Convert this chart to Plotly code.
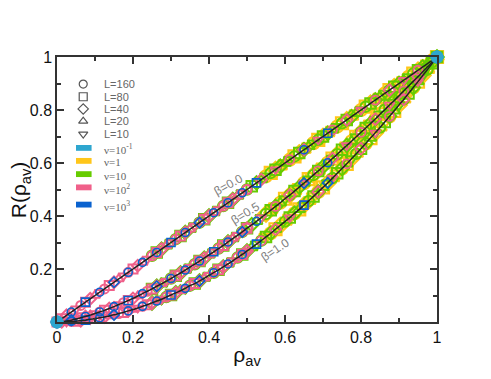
import plotly.graph_objects as go

# grid of rho_av values and R(rho_av)
rho = [0.0, 0.0125, 0.025, 0.0375, 0.05, 0.0625, 0.075, 0.0875, 0.1, 0.1125,
       0.125, 0.1375, 0.15, 0.1625, 0.175, 0.1875, 0.2, 0.2125, 0.225, 0.2375,
       0.25, 0.2625, 0.275, 0.2875, 0.3, 0.3125, 0.325, 0.3375, 0.35, 0.3625,
       0.375, 0.3875, 0.4, 0.4125, 0.425, 0.4375, 0.45, 0.4625, 0.475, 0.4875,
       0.5, 0.5125, 0.525, 0.5375, 0.55, 0.5625, 0.575, 0.5875, 0.6, 0.6125,
       0.625, 0.6375, 0.65, 0.6625, 0.675, 0.6875, 0.7, 0.7125, 0.725, 0.7375,
       0.75, 0.7625, 0.775, 0.7875, 0.8, 0.8125, 0.825, 0.8375, 0.85, 0.8625,
       0.875, 0.8875, 0.9, 0.9125, 0.925, 0.9375, 0.95, 0.9625, 0.975, 0.9875, 1.0]

R_beta00 = [0.0, 0.0125, 0.025, 0.0375, 0.05, 0.0625, 0.075, 0.0875, 0.1, 0.1125,
            0.125, 0.1375, 0.15, 0.1625, 0.175, 0.1875, 0.2, 0.2125, 0.225, 0.2375,
            0.25, 0.2625, 0.275, 0.2875, 0.3, 0.3125, 0.325, 0.3375, 0.35, 0.3625,
            0.375, 0.3875, 0.4, 0.4125, 0.425, 0.4375, 0.45, 0.4625, 0.475, 0.4875,
            0.5, 0.5125, 0.525, 0.5375, 0.55, 0.5625, 0.575, 0.5875, 0.6, 0.6125,
            0.625, 0.6375, 0.65, 0.6625, 0.675, 0.6875, 0.7, 0.7125, 0.725, 0.7375,
            0.75, 0.7625, 0.775, 0.7875, 0.8, 0.8125, 0.825, 0.8375, 0.85, 0.8625,
            0.875, 0.8875, 0.9, 0.9125, 0.925, 0.9375, 0.95, 0.9625, 0.975, 0.9875, 1.0]

R_beta05 = [0.0, 0.001, 0.004, 0.007, 0.011, 0.016, 0.021, 0.026, 0.032, 0.038,
            0.044, 0.051, 0.058, 0.066, 0.073, 0.081, 0.089, 0.098, 0.107, 0.116,
            0.125, 0.135, 0.144, 0.154, 0.164, 0.175, 0.185, 0.196, 0.207, 0.218,
            0.23, 0.241, 0.253, 0.265, 0.277, 0.289, 0.302, 0.315, 0.327, 0.34,
            0.354, 0.367, 0.38, 0.394, 0.408, 0.422, 0.436, 0.45, 0.465, 0.479,
            0.494, 0.509, 0.524, 0.539, 0.555, 0.57, 0.586, 0.601, 0.617, 0.633,
            0.65, 0.666, 0.682, 0.699, 0.716, 0.732, 0.749, 0.766, 0.784, 0.801,
            0.819, 0.836, 0.854, 0.872, 0.89, 0.908, 0.926, 0.944, 0.963, 0.981, 1.0]

R_beta10 = [0.0, 0.0, 0.001, 0.002, 0.003, 0.005, 0.007, 0.01, 0.013, 0.016,
            0.019, 0.023, 0.027, 0.032, 0.036, 0.042, 0.047, 0.053, 0.059, 0.065,
            0.072, 0.079, 0.086, 0.094, 0.102, 0.11, 0.118, 0.127, 0.137, 0.145,
            0.155, 0.165, 0.176, 0.186, 0.197, 0.208, 0.219, 0.231, 0.243, 0.255,
            0.268, 0.281, 0.294, 0.307, 0.321, 0.335, 0.35, 0.364, 0.379, 0.394,
            0.41, 0.425, 0.441, 0.457, 0.474, 0.491, 0.508, 0.525, 0.543, 0.561,
            0.579, 0.597, 0.616, 0.635, 0.654, 0.674, 0.694, 0.714, 0.734, 0.755,
            0.776, 0.797, 0.819, 0.84, 0.862, 0.885, 0.907, 0.93, 0.953, 0.976, 1.0]

curves = [R_beta00, R_beta05, R_beta10]
beta_labels = ["β=0.0", "β=0.5", "β=1.0"]

L_labels = ["L=160", "L=80", "L=40", "L=20", "L=10"]
nu_labels = ["ν=10<sup>-1</sup>", "ν=1", "ν=10", "ν=10<sup>2</sup>", "ν=10<sup>3</sup>"]

# rho ranges where each nu series has points
yellow_rho = (0.55, 1.0)
green_rho = (0.25, 1.0)
pink_rho = (0.0, 0.95)
blue_rho = (0.0, 0.76)

L_symbols = ["circle-open", "square-open", "diamond-open", "triangle-up-open", "triangle-down-open"]
nu_colors = ["#2ea6cf", "#ffc61a", "#66cc00", "#f0608a", "#0a62cf"]


def pick(lo, hi, step=1, offset=0):
    xs, ys = [], []
    for R in curves:
        for i in range(offset, len(rho), step):
            if lo <= rho[i] <= hi:
                xs.append(rho[i])
                ys.append(R[i])
    return xs, ys


fig = go.Figure()


def add_points(xs, ys, color, size, width, syms):
    fig.add_trace(go.Scatter(
        x=xs, y=ys, mode="markers", showlegend=False, cliponaxis=False,
        marker=dict(symbol=[syms[i % len(syms)] for i in range(len(xs))],
                    size=size, color=color, line=dict(color=color, width=width))))


# nu = 1
x, y = pick(*yellow_rho)
add_points(x, y, nu_colors[1], 12, 2.2, L_symbols)
# nu = 10
x, y = pick(*green_rho)
add_points(x, y, nu_colors[2], 10.5, 2, L_symbols)
# nu = 10^2
x, y = pick(pink_rho[0], 0.5)
add_points(x, y, nu_colors[3], 9, 2, L_symbols)
x, y = pick(0.5, pink_rho[1], 3, 1)
add_points(x, y, nu_colors[3], 9, 1.8, ["circle-open", "diamond-open", "triangle-down-open"])
# nu = 10^3
x, y = pick(blue_rho[0], 0.55, 3)
add_points(x, y, nu_colors[4], 8, 1.6,
           ["circle-open", "circle-open", "square-open", "circle-open", "diamond-open", "circle-open"])
x, y = pick(0.6, blue_rho[1], 5, 2)
add_points(x, y, nu_colors[4], 8, 1.6, ["circle-open", "square-open", "diamond-open"])

# theory curves
for R in curves:
    fig.add_trace(go.Scatter(x=rho, y=R, mode="lines", showlegend=False,
                             line=dict(color="#222222", width=1.5, shape="spline")))

# nu = 10^-1: only the end points
x, y = pick(0.0, 0.0)
x2, y2 = pick(1.0, 1.0)
fig.add_trace(go.Scatter(x=x + x2, y=y + y2, mode="markers", showlegend=False, cliponaxis=False,
                         marker=dict(symbol="circle", size=12, color=nu_colors[0],
                                     line=dict(color=nu_colors[0], width=1))))

# curve labels
for txt, (px, py, ang) in zip(beta_labels, [(0.45, 0.517, -29), (0.497, 0.41, -32), (0.574, 0.27, -34)]):
    fig.add_annotation(x=px, y=py, text=txt, showarrow=False, textangle=ang,
                       font=dict(size=12, color="#808080"))

# hand made legend (keys on an overlay axis spanning the plot area)
legend_rows_L = [0.898, 0.850, 0.804, 0.758, 0.709]
legend_rows_nu = [0.657, 0.608, 0.558, 0.508, 0.443]
fig.add_trace(go.Scatter(x=[0.069] * 5, y=legend_rows_L, xaxis="x2", yaxis="y2",
                         mode="markers", showlegend=False, hoverinfo="skip",
                         marker=dict(symbol=L_symbols, size=8, color="#555555",
                                     line=dict(color="#555555", width=1.2))))
for lab, yy in zip(L_labels, legend_rows_L):
    fig.add_annotation(xref="paper", yref="paper", x=0.118, y=yy, text=lab, showarrow=False,
                       xanchor="left", yanchor="middle", font=dict(size=11, color="#666666"))
for lab, col, yy in zip(nu_labels, nu_colors, legend_rows_nu):
    fig.add_shape(type="rect", xref="paper", yref="paper", x0=0.050, x1=0.091,
                  y0=yy - 0.011, y1=yy + 0.011, fillcolor=col, line=dict(width=0))
    fig.add_annotation(xref="paper", yref="paper", x=0.118, y=yy - 0.006, text=lab, showarrow=False,
                       xanchor="left", yanchor="middle",
                       font=dict(size=11, color="#666666", family="Liberation Serif"))

# y axis title placed as a rotated annotation left of the tick labels
fig.add_annotation(xref="paper", yref="paper", x=-0.098, y=0.5, text="R(ρ<sub>av</sub>)",
                   showarrow=False, textangle=-90, xanchor="center", yanchor="middle",
                   font=dict(size=21, color="#111111"))

axis_style = dict(range=[0, 1], showline=True, linecolor="#333333", linewidth=1.5, mirror="allticks",
                  ticks="inside", ticklen=7, tickwidth=1.5, tickcolor="#333333",
                  showgrid=False, zeroline=False, automargin=False,
                  tickfont=dict(size=16, color="#111111"),
                  minor=dict(ticks="inside", ticklen=4, dtick=0.1, tickwidth=1.5, tickcolor="#333333"))

# the page adds an 8px body margin, so the margins are shifted by that amount
fig.update_layout(
    width=491, height=379,
    margin=dict(l=49, r=62, t=49, b=65),
    paper_bgcolor="white", plot_bgcolor="white",
    font=dict(family="Liberation Sans, Arial, sans-serif", color="#111111"),
    xaxis=dict(axis_style, tickvals=[0, 0.2, 0.4, 0.6, 0.8, 1],
               ticktext=["0", "0.2", "0.4", "0.6", "0.8", "1"],
               title=dict(text="ρ<sub>av</sub>", font=dict(size=21, color="#111111"), standoff=2)),
    yaxis=dict(axis_style, tickvals=[0.2, 0.4, 0.6, 0.8, 1],
               ticktext=["0.2", "0.4", "0.6", "0.8", "1"]),
    xaxis2=dict(range=[0, 1], overlaying="x", visible=False),
    yaxis2=dict(range=[0, 1], overlaying="y", visible=False),
)

fig.write_html("out.html")
